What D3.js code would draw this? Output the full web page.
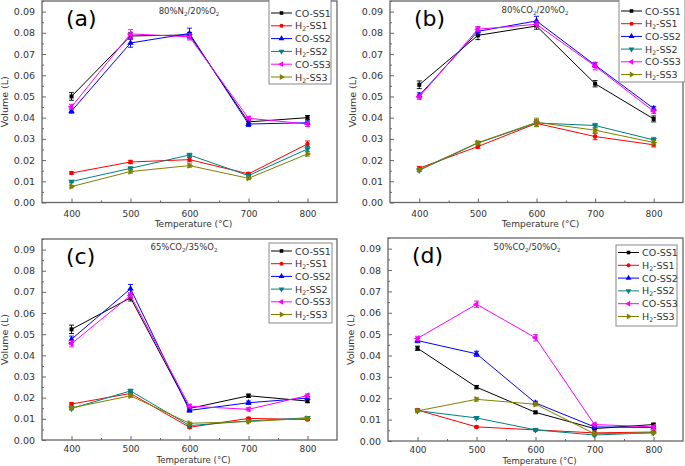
<!DOCTYPE html>
<html><head><meta charset="utf-8">
<script src="https://cdn.jsdelivr.net/npm/d3@7"></script>
<style>body{margin:0;background:#fff}svg{display:block}text{font-family:'DejaVu Sans',Verdana,sans-serif}</style>
</head><body><svg id="c" width="685" height="466"></svg>
<script>
const temps = [400, 500, 600, 700, 800];
const seriesNames = ["CO-SS1", "H2-SS1", "CO-SS2", "H2-SS2", "CO-SS3", "H2-SS3"];
const yTicks = [0, 0.01, 0.02, 0.03, 0.04, 0.05, 0.06, 0.07, 0.08, 0.09];

// panel (a) 80%N2/20%O2 — rows follow seriesNames
const valuesA = [
  [0.0500, 0.0785, 0.0790, 0.0380, 0.0400],
  [0.0139, 0.0191, 0.0202, 0.0135, 0.0276],
  [0.0431, 0.0752, 0.0797, 0.0370, 0.0376],
  [0.0099, 0.0161, 0.0224, 0.0127, 0.0252],
  [0.0451, 0.0795, 0.0781, 0.0397, 0.0370],
  [0.0075, 0.0146, 0.0174, 0.0114, 0.0229]
];
const errorsA = [
  [0.0018, 0.0015, 0.0012, 0.0010, 0.0010],
  [0.0006, 0.0008, 0.0010, 0.0006, 0.0014],
  [0.0010, 0.0020, 0.0025, 0.0012, 0.0008],
  [0.0005, 0.0007, 0.0008, 0.0005, 0.0012],
  [0.0012, 0.0020, 0.0015, 0.0008, 0.0012],
  [0.0006, 0.0008, 0.0008, 0.0006, 0.0010]
];
// panel (b) 80%CO2/20%O2
const valuesB = [
  [0.0555, 0.0788, 0.0832, 0.0560, 0.0394],
  [0.0162, 0.0264, 0.0373, 0.0311, 0.0272],
  [0.0505, 0.0807, 0.0856, 0.0648, 0.0443],
  [0.0152, 0.0280, 0.0375, 0.0363, 0.0295],
  [0.0498, 0.0817, 0.0840, 0.0643, 0.0430],
  [0.0155, 0.0282, 0.0378, 0.0341, 0.0283]
];
const errorsB = [
  [0.0018, 0.0020, 0.0015, 0.0015, 0.0014],
  [0.0008, 0.0010, 0.0015, 0.0015, 0.0010],
  [0.0012, 0.0020, 0.0022, 0.0012, 0.0010],
  [0.0006, 0.0008, 0.0015, 0.0010, 0.0012],
  [0.0012, 0.0012, 0.0015, 0.0018, 0.0010],
  [0.0006, 0.0008, 0.0020, 0.0010, 0.0010]
];
// panel (c) 65%CO2/35%O2
const valuesC = [
  [0.0523, 0.0672, 0.0149, 0.0209, 0.0184],
  [0.0170, 0.0220, 0.0060, 0.0102, 0.0097],
  [0.0476, 0.0715, 0.0140, 0.0176, 0.0198],
  [0.0149, 0.0232, 0.0068, 0.0090, 0.0105],
  [0.0455, 0.0683, 0.0160, 0.0145, 0.0210],
  [0.0152, 0.0209, 0.0079, 0.0087, 0.0102]
];
const errorsC = [
  [0.0020, 0.0015, 0.0008, 0.0008, 0.0008],
  [0.0006, 0.0008, 0.0005, 0.0005, 0.0005],
  [0.0015, 0.0020, 0.0008, 0.0008, 0.0008],
  [0.0006, 0.0008, 0.0005, 0.0005, 0.0005],
  [0.0015, 0.0012, 0.0008, 0.0008, 0.0008],
  [0.0006, 0.0008, 0.0005, 0.0005, 0.0005]
];
// panel (d) 50%CO2/50%O2
const valuesD = [
  [0.0434, 0.0252, 0.0134, 0.0058, 0.0077],
  [0.0145, 0.0066, 0.0052, 0.0038, 0.0042],
  [0.0470, 0.0408, 0.0178, 0.0066, 0.0063],
  [0.0142, 0.0108, 0.0052, 0.0028, 0.0039],
  [0.0480, 0.0640, 0.0483, 0.0077, 0.0066],
  [0.0141, 0.0195, 0.0172, 0.0034, 0.0038]
];
const errorsD = [
  [0.0010, 0.0008, 0.0006, 0.0005, 0.0006],
  [0.0006, 0.0004, 0.0004, 0.0004, 0.0004],
  [0.0010, 0.0012, 0.0008, 0.0005, 0.0005],
  [0.0005, 0.0006, 0.0004, 0.0004, 0.0004],
  [0.0010, 0.0015, 0.0015, 0.0006, 0.0006],
  [0.0005, 0.0008, 0.0008, 0.0004, 0.0004]
];

const colors = ["#000000", "#ff0000", "#0000ff", "#008080", "#ff00ff", "#808000"];
const symbols = [
  {t: d3.symbolSquare, r: 0, s: 16},
  {t: d3.symbolCircle, r: 0, s: 16},
  {t: d3.symbolTriangle, r: 0, s: 18},
  {t: d3.symbolTriangle, r: 180, s: 18},
  {t: d3.symbolTriangle, r: -90, s: 18},
  {t: d3.symbolTriangle, r: 90, s: 18}
];

const panels = [
  {label: "(a)", gas: ["80%N", "2", "/20%O", "2"], vals: valuesA, errs: errorsA,
   l: 42, r: 337, t: 1, b: 202.5, gasX: 189, gasY: 14, titleOff: 24.5, tickPad: 8.5, titleFs: 9,
   leg: {x: 269, y: -1, w: 62, h: 85, y0: 13, step: 12.8}},
  {label: "(b)", gas: ["80%CO", "2", "/20%O", "2"], vals: valuesB, errs: errorsB,
   l: 390, r: 683, t: 1, b: 202.5, gasX: 535, gasY: 13, titleOff: 24.5, tickPad: 8.5, titleFs: 9,
   leg: {x: 619, y: -1, w: 66, h: 83, y0: 11, step: 12.7}},
  {label: "(c)", gas: ["65%CO", "2", "/35%O", "2"], vals: valuesC, errs: errorsC,
   l: 42, r: 337, t: 239, b: 440, gasX: 184, gasY: 250, titleOff: 23.2, tickPad: 6, titleFs: 8.6,
   leg: {x: 269, y: 243, w: 63, h: 80, y0: 251, step: 12.7}},
  {label: "(d)", gas: ["50%CO", "2", "/50%O", "2"], vals: valuesD, errs: errorsD,
   l: 388, r: 683, t: 238, b: 441, gasX: 527, gasY: 250, titleOff: 22.5, tickPad: 6, titleFs: 8.6,
   leg: {x: 616, y: 245, w: 61, h: 81, y0: 252.5, step: 12.8}}
];

const svg = d3.select("#c");
const axisCol = "#666";
const textCol = "#333";
const fs = 9;

function subText(sel, parts, size) {
  parts.forEach((p, i) => {
    const ts = sel.append("tspan").text(p);
    if (i % 2 === 1) ts.attr("font-size", size * 0.65).attr("dy", 2);
    else if (i > 0) ts.attr("dy", -2);
  });
}

panels.forEach(p => {
  const x = d3.scaleLinear().domain([350, 850]).range([p.l, p.r]);
  const y = d3.scaleLinear().domain([0, 0.095]).range([p.b, p.t]);
  const g = svg.append("g");

  // frame
  g.append("rect").attr("x", p.l).attr("y", p.t).attr("width", p.r - p.l).attr("height", p.b - p.t)
    .attr("fill", "none").attr("stroke", axisCol).attr("stroke-width", 1.3);

  // x axis (inward ticks)
  const xa = g.append("g").attr("transform", `translate(0,${p.b})`)
    .call(d3.axisBottom(x).tickValues(temps).tickSize(-4).tickPadding(p.tickPad).tickFormat(d3.format("d")));
  xa.select(".domain").remove();
  xa.selectAll("line").attr("stroke", axisCol);
  xa.selectAll("text").attr("fill", textCol).attr("font-size", fs).attr("font-family", "'DejaVu Sans',Verdana,sans-serif");
  const xm = g.append("g").attr("transform", `translate(0,${p.b})`)
    .call(d3.axisBottom(x).tickValues([450, 550, 650, 750]).tickSize(-2).tickFormat(""));
  xm.select(".domain").remove();
  xm.selectAll("line").attr("stroke", axisCol);

  // y axis
  const ya = g.append("g").attr("transform", `translate(${p.l},0)`)
    .call(d3.axisLeft(y).tickValues(yTicks).tickSize(-4).tickPadding(7).tickFormat(d3.format(".2f")));
  ya.select(".domain").remove();
  ya.selectAll("line").attr("stroke", axisCol);
  ya.selectAll("text").attr("fill", textCol).attr("font-size", fs + 0.5).attr("font-family", "'DejaVu Sans',Verdana,sans-serif");
  const ym = g.append("g").attr("transform", `translate(${p.l},0)`)
    .call(d3.axisLeft(y).tickValues(yTicks.map(v => v + 0.005)).tickSize(-2).tickFormat(""));
  ym.select(".domain").remove();
  ym.selectAll("line").attr("stroke", axisCol);

  // axis titles
  g.append("text").attr("x", (p.l + p.r) / 2 + 4).attr("y", p.b + p.titleOff).attr("text-anchor", "middle")
    .attr("font-size", p.titleFs).attr("fill", textCol).text("Temperature (°C)");
  g.append("text").attr("transform", `translate(${p.l - 34},${(p.t + p.b) / 2}) rotate(-90)`)
    .attr("text-anchor", "middle").attr("font-size", fs + 0.5).attr("fill", textCol).text("Volume (L)");

  // panel label and gas composition
  g.append("text").attr("x", p.l + 24).attr("y", p.t + 25).attr("font-size", 22).attr("fill", "#000").text(p.label);
  subText(g.append("text").attr("x", p.gasX).attr("y", p.gasY).attr("text-anchor", "middle")
    .attr("font-size", 8.5).attr("fill", textCol), p.gas, 8.5);

  // series
  p.vals.forEach((vals, si) => {
    const pts = temps.map((t, i) => ({t, v: vals[i], e: p.errs[si][i]}));
    const col = colors[si];
    g.append("path").datum(pts).attr("fill", "none").attr("stroke", col).attr("stroke-width", 1)
      .attr("d", d3.line().x(d => x(d.t)).y(d => y(d.v)));
    const eb = g.append("g").attr("stroke", col).attr("stroke-width", 0.9);
    pts.forEach(d => {
      eb.append("line").attr("x1", x(d.t)).attr("x2", x(d.t)).attr("y1", y(d.v - d.e)).attr("y2", y(d.v + d.e));
      eb.append("line").attr("x1", x(d.t) - 2.5).attr("x2", x(d.t) + 2.5).attr("y1", y(d.v - d.e)).attr("y2", y(d.v - d.e));
      eb.append("line").attr("x1", x(d.t) - 2.5).attr("x2", x(d.t) + 2.5).attr("y1", y(d.v + d.e)).attr("y2", y(d.v + d.e));
    });
    const sym = symbols[si];
    g.selectAll(null).data(pts).enter().append("path")
      .attr("d", d3.symbol().type(sym.t).size(sym.s))
      .attr("transform", d => `translate(${x(d.t)},${y(d.v)}) rotate(${sym.r})`)
      .attr("fill", col);
  });

  // legend
  const L = p.leg;
  g.append("rect").attr("x", L.x).attr("y", L.y).attr("width", L.w).attr("height", L.h)
    .attr("fill", "#fff").attr("stroke", "#888").attr("stroke-width", 1);
  seriesNames.forEach((name, si) => {
    const yy = L.y0 + si * L.step;
    const col = colors[si];
    g.append("line").attr("x1", L.x + 2).attr("x2", L.x + 23).attr("y1", yy).attr("y2", yy)
      .attr("stroke", col).attr("stroke-width", 1);
    const sym = symbols[si];
    g.append("path").attr("d", d3.symbol().type(sym.t).size(sym.s * 0.8)())
      .attr("transform", `translate(${L.x + 12.5},${yy}) rotate(${sym.r})`).attr("fill", col);
    const tx = g.append("text").attr("x", L.x + 26).attr("y", yy + 3.5).attr("font-size", 9.5).attr("fill", textCol);
    if (name.startsWith("H2")) subText(tx, ["H", "2", "-" + name.slice(3)], 9.5);
    else tx.text(name);
  });
});
</script></body></html>
